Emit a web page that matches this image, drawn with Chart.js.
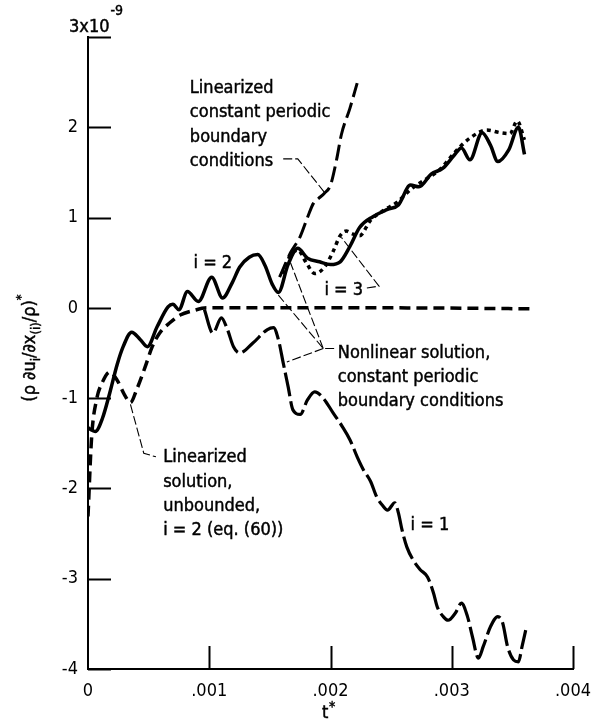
<!DOCTYPE html>
<html>
<head>
<meta charset="utf-8">
<script src="https://cdn.jsdelivr.net/npm/chart.js@4.4.1/dist/chart.umd.min.js"></script>
<style>
html, body { margin: 0; padding: 0; background: #fff; }
</style>
</head>
<body>
<canvas id="chart" width="593" height="725"></canvas>
<script>
// t* in units of 1e-3, values in units of 1e-9
const tI2 = [0, 0.06, 0.12, 0.18, 0.24, 0.29, 0.36, 0.43, 0.49, 0.57, 0.66, 0.70, 0.75, 0.82, 0.91, 1.02, 1.11, 1.19, 1.25, 1.33,
             1.40, 1.46, 1.52, 1.57, 1.65, 1.73, 1.81, 1.91, 2.00, 2.08, 2.16, 2.24, 2.35, 2.47, 2.56, 2.66, 2.73, 2.83, 2.93, 3.02,
             3.08, 3.15, 3.25, 3.32, 3.38, 3.47, 3.55, 3.60];
const yI2 = [-1.33, -1.37, -1.22, -0.94, -0.63, -0.43, -0.27, -0.35, -0.43, -0.21, 0.01, 0.04, -0.02, 0.18, 0.07, 0.34, 0.11, 0.28, 0.45, 0.56,
             0.59, 0.47, 0.26, 0.17, 0.48, 0.66, 0.55, 0.51, 0.48, 0.51, 0.68, 0.89, 1.01, 1.09, 1.14, 1.36, 1.34, 1.48, 1.55, 1.69,
             1.77, 1.64, 1.94, 1.80, 1.62, 1.75, 2.00, 1.70];

const tI3 = [1.60, 1.67, 1.73, 1.80, 1.87, 1.95, 2.02, 2.08, 2.13, 2.18, 2.24, 2.33, 2.45, 2.55, 2.66, 2.78, 2.90, 3.03, 3.15, 3.29, 3.40, 3.48, 3.54, 3.60];
const yI3 = [0.38, 0.58, 0.64, 0.50, 0.38, 0.45, 0.62, 0.80, 0.85, 0.82, 0.80, 0.97, 1.09, 1.17, 1.31, 1.42, 1.53, 1.73, 1.88, 1.97, 1.94, 1.93, 2.07, 1.86];

const tI1 = [0.96, 1.03, 1.10, 1.15, 1.20, 1.25, 1.36, 1.48, 1.53, 1.57, 1.61, 1.65, 1.69, 1.75, 1.81, 1.87, 1.94, 2.02, 2.10, 2.16,
             2.22, 2.27, 2.33, 2.38, 2.43, 2.47, 2.53, 2.56, 2.59, 2.63, 2.68, 2.74, 2.80, 2.85, 2.88, 2.93, 2.97, 3.03, 3.08, 3.13,
             3.17, 3.22, 3.26, 3.32, 3.38, 3.42, 3.46, 3.51, 3.55, 3.58, 3.61];
const yI1 = [-0.02, -0.28, -0.11, -0.24, -0.43, -0.50, -0.39, -0.24, -0.22, -0.35, -0.61, -0.87, -1.13, -1.18, -1.02, -0.93, -1.00, -1.16, -1.32, -1.46,
             -1.65, -1.79, -1.92, -2.09, -2.19, -2.24, -2.16, -2.27, -2.46, -2.65, -2.79, -2.90, -2.98, -3.16, -3.31, -3.42, -3.46, -3.38, -3.27, -3.42,
             -3.64, -3.88, -3.75, -3.53, -3.42, -3.49, -3.75, -3.90, -3.92, -3.75, -3.57];

const tLinPer = [1.58, 1.67, 1.75, 1.81, 1.86, 1.90, 1.95, 2.00, 2.05, 2.09, 2.16, 2.22];
const yLinPer = [0.34, 0.61, 0.79, 1.00, 1.16, 1.21, 1.27, 1.36, 1.64, 1.92, 2.21, 2.49];

const tLinUnb = [0, 0.03, 0.07, 0.12, 0.18, 0.24, 0.30, 0.35, 0.40, 0.47, 0.53, 0.59, 0.68, 0.76, 0.87, 0.98, 1.10, 2.50, 3.65];
const yLinUnb = [-2.31, -1.43, -1.02, -0.82, -0.71, -0.80, -0.96, -1.05, -0.91, -0.66, -0.43, -0.28, -0.16, -0.08, -0.03, 0, 0, 0, -0.01];

const xTicks = [0, 1, 2, 3, 4];
const xTickLabels = ['0', '.001', '.002', '.003', '.004'];
const yTicks = [-4, -3, -2, -1, 0, 1, 2, 3];

const FONT = '"DejaVu Sans Condensed", "Liberation Sans Narrow", "DejaVu Sans", sans-serif';

function pts(ts, ys) { return ts.map((t, i) => ({ x: t, y: ys[i] })); }

const line = (data, dash, width) => ({
    data: data,
    borderColor: '#000',
    borderWidth: width,
    borderDash: dash,
    borderCapStyle: 'butt',
    pointRadius: 0,
    fill: false,
    cubicInterpolationMode: 'monotone'
});

// text notes and leader lines, in data coordinates
const notes = [
    { x: 0.84, y: 2.38, lines: ['Linearized', 'constant periodic', 'boundary', 'conditions'] },
    { x: 2.06, y: -0.55, lines: ['Nonlinear solution,', 'constant periodic', 'boundary conditions'] },
    { x: 0.62, y: -1.71, lines: ['Linearized', 'solution,', 'unbounded,', 'i = 2 (eq. (60))'] },
    { x: 0.87, y: 0.44, lines: ['i = 2'] },
    { x: 1.95, y: 0.14, lines: ['i = 3'] },
    { x: 2.66, y: -2.46, lines: ['i = 1'] }
];
const leaders = [
    [[1.61, 1.65], [1.73, 1.65], [1.95, 1.28]],
    [[2.30, 0.22], [2.40, 0.24], [2.09, 0.78]],
    [[2.03, -0.45], [1.94, -0.45], [1.57, 0.14]],
    [[1.94, -0.45], [1.67, 0.50]],
    [[1.94, -0.45], [1.64, -0.60]],
    [[0.35, -1.07], [0.46, -1.61], [0.56, -1.65]]
];

// text with a hairline stroke to match the heavier print
function inkText(ctx, s, x, y) {
    ctx.fillText(s, x, y);
    ctx.strokeText(s, x, y);
}

const decor = {
    id: 'decor',
    afterDatasetsDraw(chart) {
        const { ctx, chartArea: a, scales: { x, y } } = chart;
        ctx.save();
        ctx.strokeStyle = '#000';
        ctx.fillStyle = '#000';
        // inward tick marks
        ctx.lineWidth = 2;
        yTicks.forEach(v => {
            const py = Math.round(y.getPixelForValue(v)) + 0.5;
            ctx.beginPath(); ctx.moveTo(a.left, py); ctx.lineTo(a.left + 23, py); ctx.stroke();
        });
        xTicks.slice(1).forEach(v => {
            const px = Math.round(x.getPixelForValue(v)) + 0.5;
            ctx.beginPath(); ctx.moveTo(px, a.bottom); ctx.lineTo(px, a.bottom - 23); ctx.stroke();
        });

        // leader lines
        ctx.lineWidth = 1.1;
        ctx.setLineDash([9, 3]);
        leaders.forEach(l => {
            ctx.beginPath();
            l.forEach((p, i) => {
                const px = x.getPixelForValue(p[0]), py = y.getPixelForValue(p[1]);
                if (i === 0) ctx.moveTo(px, py); else ctx.lineTo(px, py);
            });
            ctx.stroke();
        });
        ctx.setLineDash([]);

        // notes
        ctx.lineWidth = 0.45;
        ctx.font = '18px ' + FONT;
        ctx.textAlign = 'left';
        ctx.textBaseline = 'alphabetic';
        notes.forEach(n => {
            const px = x.getPixelForValue(n.x), py = y.getPixelForValue(n.y);
            n.lines.forEach((s, i) => inkText(ctx, s, px, py + i * 24.3));
        });

        // top label 3x10^-9
        const top = y.getPixelForValue(3);
        ctx.font = '18px ' + FONT;
        inkText(ctx, '3x10', 69, top - 5);
        const w = ctx.measureText('3x10').width;
        ctx.font = '14px ' + FONT;
        inkText(ctx, '-9', 69 + w + 1, top - 22);

        // x title t*
        ctx.font = '18px ' + FONT;
        inkText(ctx, 't', 322, 718);
        ctx.font = '14px ' + FONT;
        inkText(ctx, '*', 329, 711);

        // y title
        const parts = [['(\u03c1 \u2202u', 'n'], ['i', 'sub'], ['/\u2202x', 'n'], ['(i)', 'sub'], ['/\u03c1)', 'n'], ['*', 'sup']];
        const fontOf = k => (k === 'n' ? '18px ' : '13px ') + FONT;
        let total = 0;
        parts.forEach(p => { ctx.font = fontOf(p[1]); total += ctx.measureText(p[0]).width; });
        ctx.translate(35, 348);
        ctx.rotate(-Math.PI / 2);
        let cx = -total / 2;
        parts.forEach(p => {
            ctx.font = fontOf(p[1]);
            const dy = p[1] === 'sub' ? 5 : p[1] === 'sup' ? -10 : 0;
            inkText(ctx, p[0], cx, dy);
            cx += ctx.measureText(p[0]).width;
        });
        ctx.restore();
    }
};

new Chart(document.getElementById('chart'), {
    type: 'line',
    data: {
        datasets: [
            line(pts(tLinUnb, yLinUnb), [11, 6], 3.5),
            line(pts(tLinPer, yLinPer), [16, 6], 3),
            line(pts(tI1, yI1), [24, 5], 3.2),
            line(pts(tI3, yI3), [4, 4], 3.5),
            line(pts(tI2, yI2), [], 3.5)
        ]
    },
    options: {
        responsive: false,
        animation: false,
        layout: { padding: { top: 37, right: 20, left: 0, bottom: 0 } },
        plugins: { legend: { display: false }, tooltip: { enabled: false } },
        scales: {
            x: {
                type: 'linear', min: 0, max: 4,
                afterFit: s => { s.height = 56; s.paddingLeft = 0; s.paddingRight = 0; },
                afterBuildTicks: s => { s.ticks = xTicks.map(v => ({ value: v })); },
                grid: { display: false, drawTicks: false },
                border: { color: '#000', width: 2 },
                ticks: { padding: 12, color: '#000', font: { family: FONT, size: 18 }, maxRotation: 0,
                         callback: v => xTickLabels[xTicks.indexOf(v)] }
            },
            y: {
                type: 'linear', min: -4, max: 3,
                afterFit: s => { s.width = 88; s.paddingTop = 0; s.paddingBottom = 0; },
                afterBuildTicks: s => { s.ticks = yTicks.map(v => ({ value: v })); },
                grid: { display: false, drawTicks: false },
                border: { color: '#000', width: 2 },
                ticks: { padding: 10, color: '#000', font: { family: FONT, size: 18 },
                         callback: v => v === 3 ? '' : String(v) }
            }
        }
    },
    plugins: [decor]
});
</script>
</body>
</html>
